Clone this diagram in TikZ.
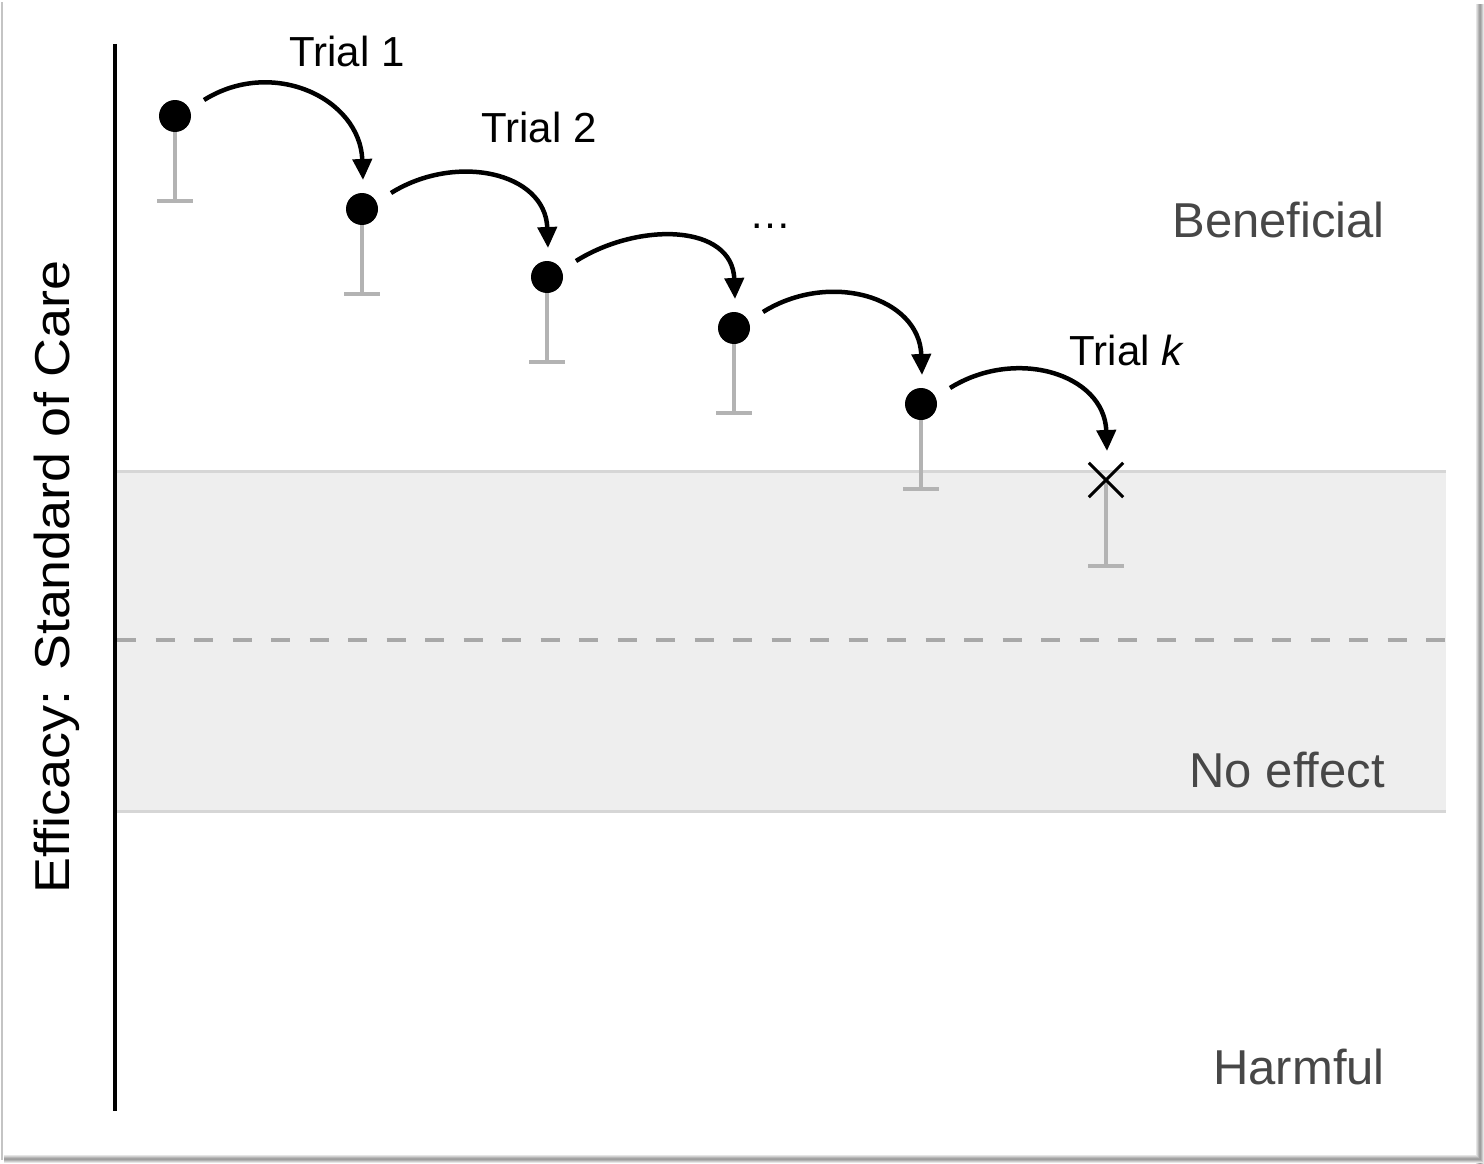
\documentclass[tikz,border=0pt]{standalone}
\usepackage{fontspec}
\setmainfont{Liberation Sans}
\usetikzlibrary{calc,arrows.meta}
\definecolor{bandfill}{HTML}{EEEEEE}
\definecolor{bandedge}{HTML}{D6D6D6}
\definecolor{zeroline}{HTML}{A8A8A8}
\definecolor{barcol}{HTML}{B3B3B3}
\definecolor{zonetext}{HTML}{474747}
\definecolor{framecol}{HTML}{C4C4C4}
\tikzset{
  estimate/.style={circle,fill=black,inner sep=0pt,minimum size=32pt},
  ci/.style={draw=barcol,line width=4pt},
  hop/.style={line width=4.5pt,-{Triangle[length=21pt,width=19pt]}},
  triallabel/.style={font=\fontsize{42}{50}\selectfont,inner sep=0pt},
  zonelabel/.style={font=\fontsize{49}{58}\selectfont,text=zonetext,anchor=east,inner sep=0pt},
}
\begin{document}
\begin{tikzpicture}[x=1pt,y=-1pt]
\useasboundingbox (0,0) rectangle (1484,1164);
\fill[white] (0,0) rectangle (1484,1164);
% frame with soft shadow at right and bottom
\fill[framecol] (1,2) rectangle (3,1160);
\foreach \i/\c in {0/10,1/18,2/28,3/36,4/38,5/30,6/20,7/10}{
  \fill[black!\c] (1476+\i,4) rectangle (1477+\i,1164);
  \fill[black!\c] (4,1155+\i) rectangle (1484,1156+\i);
}
\fill[white] (3,2) rectangle (1476,1155);

% no-effect band
\fill[bandfill] (117,471) rectangle (1446,811);
\draw[bandedge,line width=3pt] (117,471) -- (1446,471);
\draw[bandedge,line width=3pt] (117,811) -- (1446,811);
\draw[zeroline,line width=4pt,dash pattern=on 19pt off 19.5pt] (117,640) -- (1446,640);

% axis
\draw[line width=4pt] (115,44) -- (115,1111);
\node[rotate=90,inner sep=0pt,font=\fontsize{49}{58}\selectfont] (ylab) at (57,577)
  {\scalebox{1.1}[1]{Efficacy: Standard of Care}};

% zone labels
\node[zonelabel] (benef) at (1385,220) {Beneficial};
\node[zonelabel] (noeff) at (1385,770) {No effect};
\node[zonelabel] (harm) at (1385,1067) {Harmful};

% confidence bars
\foreach \x/\y in {175/116,362/209,547/277,734/328,921/404,1106/481}{
  \draw[ci] (\x,\y) -- (\x,\y+85);
  \draw[ci] (\x-18,\y+85) -- (\x+18,\y+85);
}

% trial estimates
\node[estimate] (p1) at (175,116) {};
\node[estimate] (p2) at (362,209) {};
\node[estimate] (p3) at (547,277) {};
\node[estimate] (p4) at (734,328) {};
\node[estimate] (p5) at (921,404) {};
\node[inner sep=0pt,minimum size=34pt] (pk) at (1106,480) {};
\draw[line width=3pt] (pk.north west) -- (pk.south east);
\draw[line width=3pt] (pk.south west) -- (pk.north east);

% hops between successive trials
\foreach \a/\b in {p1/p2,p2/p3,p3/p4,p4/p5,p5/pk}{
  \draw[hop] ($(\a)+(29,-16)$) to[out=32,in=92,looseness=1.17] ($(\b)+(1,-29)$);
}

% trial labels
\node[triallabel] (t1) at (347,51) {Trial 1};
\node[triallabel] (t2) at (539,127) {Trial 2};
\node[triallabel] (tdots) at (770,226) {…};
\node[triallabel] (tk) at (1127,350) {Trial \textit{k}};
\end{tikzpicture}
\end{document}
